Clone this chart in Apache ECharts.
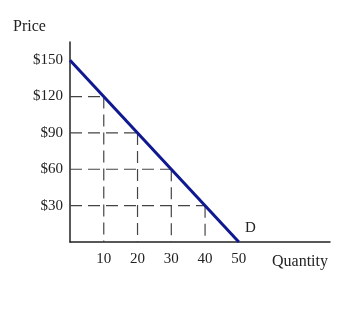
<!DOCTYPE html>
<html>
<head>
<meta charset="utf-8">
<script src="https://cdn.jsdelivr.net/npm/echarts@6/dist/echarts.min.js"></script>
<style>html,body{margin:0;padding:0;background:#fff}#c{width:345px;height:324px}</style>
</head>
<body>
<div id="c"></div>
<script>
var demandQ = [0, 50];
var demandP = [150, 0];
var guideQ = [10, 20, 30, 40];
var guideP = [120, 90, 60, 30];
var yTicks = [30, 60, 90, 120, 150];
var xTicks = [10, 20, 30, 40, 50];

var chart = echarts.init(document.getElementById('c'), null, {renderer: 'canvas'});
var font = '"Liberation Serif", "DejaVu Serif", serif';
var series = [];
var guideStyle = {color: '#444', width: 1.2, type: [12, 6]};
for (var i = 0; i < guideQ.length; i++) {
  series.push({type: 'line', data: [[0, guideP[i]], [guideQ[i], guideP[i]]], symbol: 'none', silent: true, lineStyle: guideStyle, z: 1});
  series.push({type: 'line', data: [[guideQ[i], guideP[i]], [guideQ[i], 0]], symbol: 'none', silent: true, lineStyle: guideStyle, z: 1});
}
series.push({
  type: 'line',
  data: demandQ.map(function (q, i) { return [q, demandP[i]]; }),
  symbol: 'none',
  lineStyle: {color: '#0f1890', width: 3},
  z: 3
});
chart.setOption({
  animation: false,
  grid: {left: 70, right: 15, top: 42, bottom: 82},
  xAxis: {
    type: 'value', min: 0, max: 77, interval: 10,
    axisLine: {show: true, onZero: false, lineStyle: {color: '#222', width: 1.5}},
    axisTick: {show: false},
    splitLine: {show: false},
    axisLabel: {
      color: '#222', fontFamily: font, fontSize: 15, margin: 10,
      formatter: function (v) { return xTicks.indexOf(v) >= 0 ? String(v) : ''; }
    }
  },
  yAxis: {
    type: 'value', min: 0, max: 165, interval: 30,
    axisLine: {show: true, onZero: false, lineStyle: {color: '#222', width: 1.5}},
    axisTick: {show: false},
    splitLine: {show: false},
    axisLabel: {
      color: '#222', fontFamily: font, fontSize: 15, margin: 7,
      formatter: function (v) { return yTicks.indexOf(v) >= 0 ? '$' + v : ''; }
    }
  },
  graphic: [
    {type: 'text', left: 13, top: 19, style: {text: 'Price', fontFamily: font, fontSize: 16, fill: '#222'}},
    {type: 'text', left: 272, top: 254, style: {text: 'Quantity', fontFamily: font, fontSize: 16, fill: '#222'}},
    {type: 'text', left: 245, top: 221, style: {text: 'D', fontFamily: font, fontSize: 15, fill: '#222'}}
  ],
  series: series
});
</script>
</body>
</html>
